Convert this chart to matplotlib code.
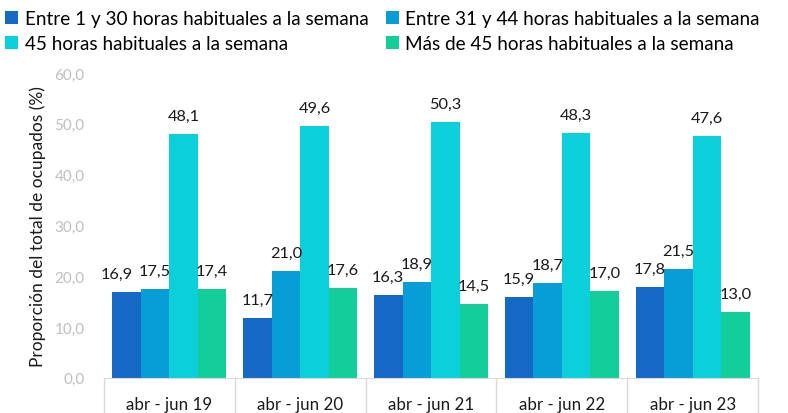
import numpy as np
import matplotlib.pyplot as plt

plt.rcParams['font.family'] = ['Lato', 'DejaVu Sans']

periods = ['abr - jun 19', 'abr - jun 20', 'abr - jun 21', 'abr - jun 22', 'abr - jun 23']
series_names = ['Entre 1 y 30 horas habituales a la semana',
                'Entre 31 y 44 horas habituales a la semana',
                '45 horas habituales a la semana',
                'Más de 45 horas habituales a la semana']
h_1_30 = [16.9, 11.7, 16.3, 15.9, 17.8]
h_31_44 = [17.5, 21.0, 18.9, 18.7, 21.5]
h_45 = [48.1, 49.6, 50.3, 48.3, 47.6]
h_mas_45 = [17.4, 17.6, 14.5, 17.0, 13.0]
colors = ['#1469C4', '#079DD7', '#0BD0DA', '#12CF9A']

fig = plt.figure(figsize=(7.88, 4.14), dpi=100)
ax = fig.add_axes([0.132, 0.085, 0.83, 0.736])

x = np.arange(len(periods))
width = 0.218
handles = []
for i, (vals, c, name) in enumerate(zip([h_1_30, h_31_44, h_45, h_mas_45], colors, series_names)):
    pos = x + (i - 1.5) * width
    bars = ax.bar(pos, vals, width, color=c, label=name)
    handles.append(bars)
    for j, (b, v) in enumerate(zip(bars, vals)):
        dx = -7 if (i == 0 and j == 0) else 0  # label nudged left in the original
        ax.annotate(f'{v:.1f}'.replace('.', ','), (b.get_x() + b.get_width() / 2, v),
                    xytext=(dx, 8), textcoords='offset points', ha='center', va='bottom',
                    fontsize=11.8, color='#1a1a1a')

ax.set_xlim(-0.5, len(periods) - 0.5)
ax.set_ylim(0, 60)
ax.set_yticks(np.arange(0, 61, 10))
ax.set_yticklabels([f'{v:.1f}'.replace('.', ',') for v in np.arange(0, 61, 10)])
ax.tick_params(axis='y', length=0, labelcolor='#BFBFBF', labelsize=11, pad=14)
ax.set_ylabel('Proporción del total de ocupados (%)', fontsize=12.5, color='#1a1a1a', labelpad=6)

ax.set_xticks(x)
ax.set_xticklabels(periods, fontsize=12.2, color='#1a1a1a')
ax.tick_params(axis='x', which='major', length=0, pad=13)
ax.set_xticks(np.arange(-0.5, len(periods), 1), minor=True)
ax.tick_params(axis='x', which='minor', length=30, color='#D9D9D9', width=1)

for s in ['top', 'right', 'left']:
    ax.spines[s].set_visible(False)
ax.spines['bottom'].set_color('#D9D9D9')

order = [0, 2, 1, 3]
fig.legend([handles[k] for k in order], [series_names[k] for k in order],
           loc='upper left', bbox_to_anchor=(-0.008, 1.0), ncol=2, frameon=False,
           fontsize=13.6, handlelength=0.7, handleheight=0.7, handletextpad=0.35,
           columnspacing=0.9, labelspacing=0.4, borderaxespad=0.2)

fig.savefig('out.png', dpi=100)
